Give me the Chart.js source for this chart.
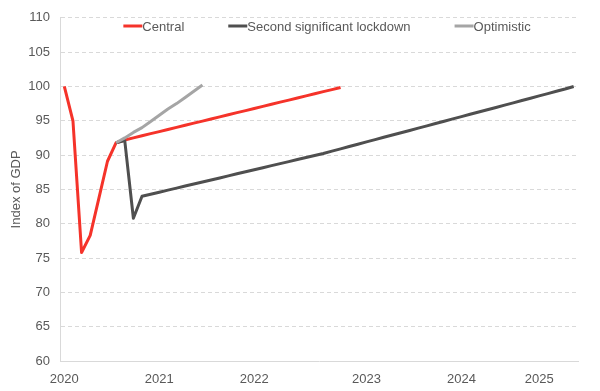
<!DOCTYPE html>
<html>
<head>
<meta charset="utf-8">
<script src="https://cdn.jsdelivr.net/npm/chart.js@4/dist/chart.umd.min.js"></script>
<style>
  html, body { margin: 0; padding: 0; background: #fff; }
  #wrap { width: 600px; height: 391px; }
</style>
</head>
<body>
<div id="wrap"><canvas id="gdpChart"></canvas></div>
<script>
// year labels on the x axis and the period they sit under
const yearLabels = ['2020', '2021', '2022', '2023', '2024', '2025'];
const yearLabelAt = [0, 11, 22, 35, 46, 55];
const periodCount = 60;

// index of GDP, one value per period (null = no value)
const central = [
  100, 95, 75.8, 78.3, 83.7, 89.1, 91.8, 92.2, 92.51, 92.81,
  93.12, 93.42, 93.73, 94.04, 94.34, 94.65, 94.95, 95.26, 95.57, 95.87,
  96.18, 96.48, 96.79, 97.10, 97.40, 97.71, 98.01, 98.32, 98.63, 98.93,
  99.24, 99.54, 99.85
];
const lockdown = [
  null, null, null, null, null, null, 91.8, 92.1, 80.8, 84.0,
  84.30, 84.59, 84.89, 85.19, 85.49, 85.78, 86.08, 86.38, 86.67, 86.97,
  87.27, 87.57, 87.86, 88.16, 88.46, 88.76, 89.05, 89.35, 89.65, 89.94,
  90.24, 90.58, 90.91, 91.25, 91.58, 91.92, 92.25, 92.59, 92.92, 93.26,
  93.59, 93.93, 94.26, 94.60, 94.93, 95.27, 95.60, 95.94, 96.27, 96.61,
  96.94, 97.28, 97.61, 97.95, 98.28, 98.62, 98.95, 99.29, 99.62, 100.0
];
const optimistic = [
  null, null, null, null, null, null, 91.8, 92.5, 93.3, 94.0,
  94.9, 95.8, 96.7, 97.5, 98.4, 99.3, 100.2
];

const periods = [];
for (let i = 0; i < periodCount; i++) {
  const k = yearLabelAt.indexOf(i);
  periods.push(k >= 0 ? yearLabels[k] : '');
}

const textColor = '#595959';
const font = { family: "'Liberation Sans', Arial, sans-serif", size: 13 };

// legend drawn inside the plot area, like the original
const insideLegend = {
  id: 'insideLegend',
  afterDraw(chart) {
    const ctx = chart.ctx;
    const gap = 44, sample = 19;
    ctx.save();
    ctx.font = `${font.size}px ${font.family}`;
    const items = chart.data.datasets.map(ds => ({ label: ds.label, color: ds.borderColor, w: ctx.measureText(ds.label).width }));
    const total = items.reduce((s, it) => s + sample + it.w, 0) + gap * (items.length - 1);
    let x = (chart.chartArea.left + chart.chartArea.right) / 2 - total / 2 + 8;
    const y = 26;
    items.forEach(it => {
      ctx.strokeStyle = it.color;
      ctx.lineWidth = 3;
      ctx.beginPath(); ctx.moveTo(x, y); ctx.lineTo(x + sample, y); ctx.stroke();
      ctx.fillStyle = textColor;
      ctx.textBaseline = 'middle';
      ctx.fillText(it.label, x + sample, y + 1);
      x += sample + it.w + gap;
    });
    ctx.restore();
  }
};

new Chart(document.getElementById('gdpChart').getContext('2d'), {
  type: 'line',
  data: {
    labels: periods,
    datasets: [
      { label: 'Central', data: central, borderColor: '#f5332a', order: 3 },
      { label: 'Second significant lockdown', data: lockdown, borderColor: '#4f4f4f', order: 2 },
      { label: 'Optimistic', data: optimistic, borderColor: '#a5a5a5', order: 1 },
    ],
  },
  options: {
    responsive: true, maintainAspectRatio: false, animation: false,
    layout: { padding: { top: 10, right: 22, left: 0, bottom: 0 } },
    elements: {
      point: { radius: 0 },
      line: { borderWidth: 3, tension: 0, borderJoinStyle: 'round', borderCapStyle: 'butt' },
    },
    plugins: { legend: { display: false }, tooltip: { enabled: false } },
    scales: {
      x: {
        type: 'category', offset: true,
        grid: { display: false },
        border: { color: '#d9d9d9', width: 1 },
        ticks: { autoSkip: false, maxRotation: 0, color: textColor, font, padding: 3 },
        afterFit: s => { s.height = 30; },
      },
      y: {
        min: 60, max: 110,
        grid: { color: '#d9d9d9', drawTicks: false },
        border: { color: '#d9d9d9', width: 1, dash: [4, 3] },
        ticks: { stepSize: 5, color: textColor, font, padding: 10 },
        title: { display: true, text: 'Index of GDP', color: textColor, font, padding: { top: 9, bottom: 0 } },
        afterFit: s => { s.width = 60; },
      },
    },
  },
  plugins: [insideLegend],
});
</script>
</body>
</html>
